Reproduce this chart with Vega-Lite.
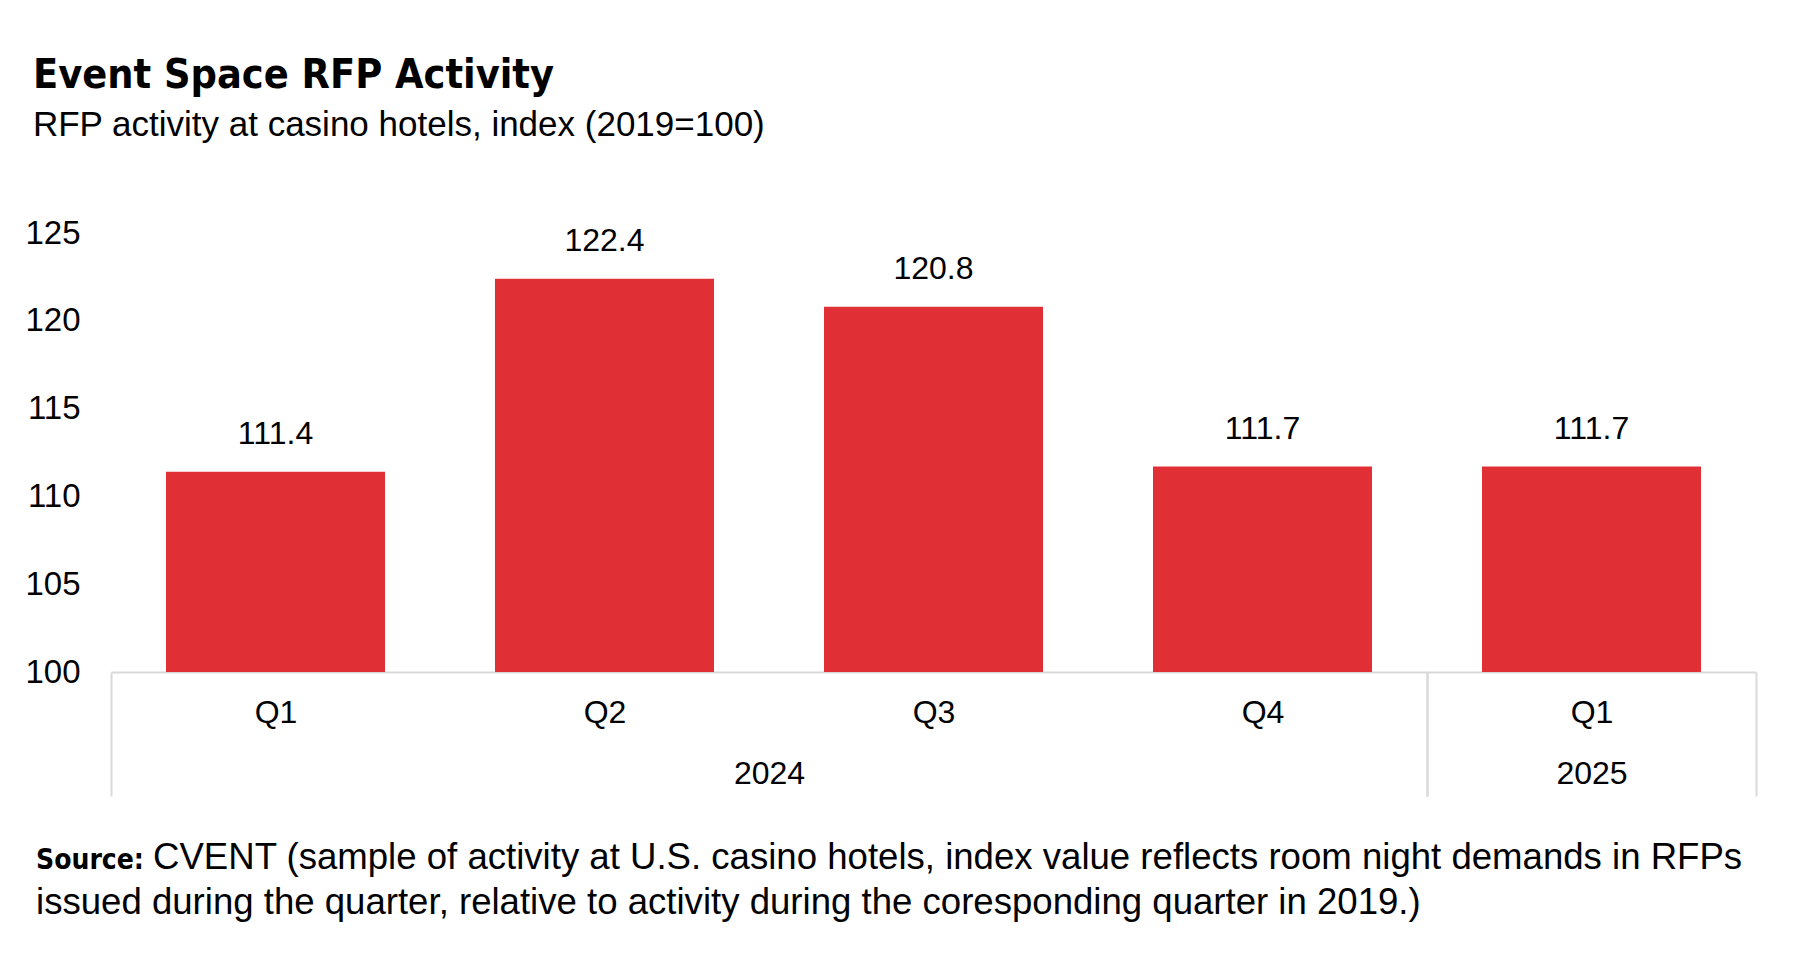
{
  "$schema": "https://vega.github.io/schema/vega-lite/v6.json",
  "padding": {"left": 24, "top": 54, "right": 30, "bottom": 20},
  "config": {
    "view": {"stroke": null},
    "font": "Liberation Sans",
    "axis": {"labelColor": "black", "titleColor": "black"},
    "text": {"color": "black"}
  },
  "title": {
    "text": "Event Space RFP Activity",
    "subtitle": "RFP activity at casino hotels, index (2019=100)",
    "anchor": "start",
    "font": "'DejaVu Sans Condensed', 'Liberation Sans'",
    "fontSize": 41,
    "fontWeight": "bold",
    "color": "black",
    "subtitleFont": "Liberation Sans",
    "subtitleFontSize": 35,
    "subtitleColor": "black",
    "subtitlePadding": 11,
    "offset": 73.5,
    "dx": 8
  },
  "spacing": 42,
  "vconcat": [
    {
      "spacing": 0,
      "bounds": "flush",
      "hconcat": [
        {
          "width": 1316,
          "height": 439,
          "data": {"values": [
            {"year": "2024", "quarter": "Q1", "value": 111.4},
            {"year": "2024", "quarter": "Q2", "value": 122.4},
            {"year": "2024", "quarter": "Q3", "value": 120.8},
            {"year": "2024", "quarter": "Q4", "value": 111.7}
          ]},
          "encoding": {
            "x": {
              "field": "quarter", "type": "nominal", "sort": null,
              "scale": {"paddingInner": 0, "paddingOuter": 0},
              "axis": {
                "title": "2024", "labelAngle": 0, "labelFontSize": 32, "labelPadding": -98.5,
                "tickBand": "extent", "tickSize": 124, "tickWidth": 2, "tickColor": "#d9d9d9",
                "tickOpacity": {"condition": {"test": "datum.index < 0 || datum.value === 'Q4'", "value": 1}, "value": 0},
                "domainColor": "#d9d9d9", "domainWidth": 2,
                "titleFontSize": 32, "titleFontWeight": "normal", "titleBaseline": "top", "titleY": 86.7
              }
            },
            "y": {
              "field": "value", "type": "quantitative",
              "scale": {"domain": [100, 125], "nice": false, "zero": false},
              "axis": {
                "title": null, "domain": false, "ticks": false, "grid": false,
                "values": [100, 105, 110, 115, 120, 125],
                "labelFontSize": 33, "labelPadding": 31
              }
            }
          },
          "layer": [
            {
              "mark": {"type": "bar", "width": {"band": 0.6657}, "color": "#e13035"},
              "encoding": {"y2": {"datum": 100}}
            },
            {
              "mark": {"type": "text", "baseline": "alphabetic", "dy": -28, "fontSize": 32},
              "encoding": {"text": {"field": "value", "type": "quantitative", "format": ".1f"}}
            }
          ]
        },
        {
          "width": 329,
          "height": 439,
          "data": {"values": [
            {"year": "2025", "quarter": "Q1", "value": 111.7}
          ]},
          "encoding": {
            "x": {
              "field": "quarter", "type": "nominal", "sort": null,
              "scale": {"paddingInner": 0, "paddingOuter": 0},
              "axis": {
                "title": "2025", "labelAngle": 0, "labelFontSize": 32, "labelPadding": -98.5,
                "tickBand": "extent", "tickSize": 124, "tickWidth": 2, "tickColor": "#d9d9d9",
                "domainColor": "#d9d9d9", "domainWidth": 2,
                "titleFontSize": 32, "titleFontWeight": "normal", "titleBaseline": "top", "titleY": 86.7
              }
            },
            "y": {
              "field": "value", "type": "quantitative",
              "scale": {"domain": [100, 125], "nice": false, "zero": false},
              "axis": null
            }
          },
          "layer": [
            {
              "mark": {"type": "bar", "width": {"band": 0.6657}, "color": "#e13035"},
              "encoding": {"y2": {"datum": 100}}
            },
            {
              "mark": {"type": "text", "baseline": "alphabetic", "dy": -28, "fontSize": 32},
              "encoding": {"text": {"field": "value", "type": "quantitative", "format": ".1f"}}
            }
          ]
        }
      ]
    },
    {
      "width": 1640,
      "height": 90,
      "data": {"values": [
        {"line": 1, "part": "label", "text": "Source:"},
        {"line": 1, "part": "body", "text": "CVENT (sample of activity at U.S. casino hotels, index value reflects room night demands in RFPs"},
        {"line": 2, "part": "body", "text": "issued during the quarter, relative to activity during the coresponding quarter in 2019.)"}
      ]},
      "encoding": {
        "y": {"field": "line", "type": "ordinal", "axis": null, "scale": {"paddingInner": 0, "paddingOuter": 0}},
        "text": {"field": "text", "type": "nominal"}
      },
      "layer": [
        {
          "transform": [{"filter": "datum.part === 'label'"}],
          "mark": {"type": "text", "align": "left", "baseline": "alphabetic", "x": -75, "font": "'DejaVu Sans Condensed', 'Liberation Sans'", "fontWeight": "bold", "fontSize": 28}
        },
        {
          "transform": [{"filter": "datum.part === 'body' && datum.line === 1"}],
          "mark": {"type": "text", "align": "left", "baseline": "alphabetic", "x": 42, "fontSize": 36.6}
        },
        {
          "transform": [{"filter": "datum.part === 'body' && datum.line === 2"}],
          "mark": {"type": "text", "align": "left", "baseline": "alphabetic", "x": -75, "fontSize": 36.6}
        }
      ]
    }
  ]
}
